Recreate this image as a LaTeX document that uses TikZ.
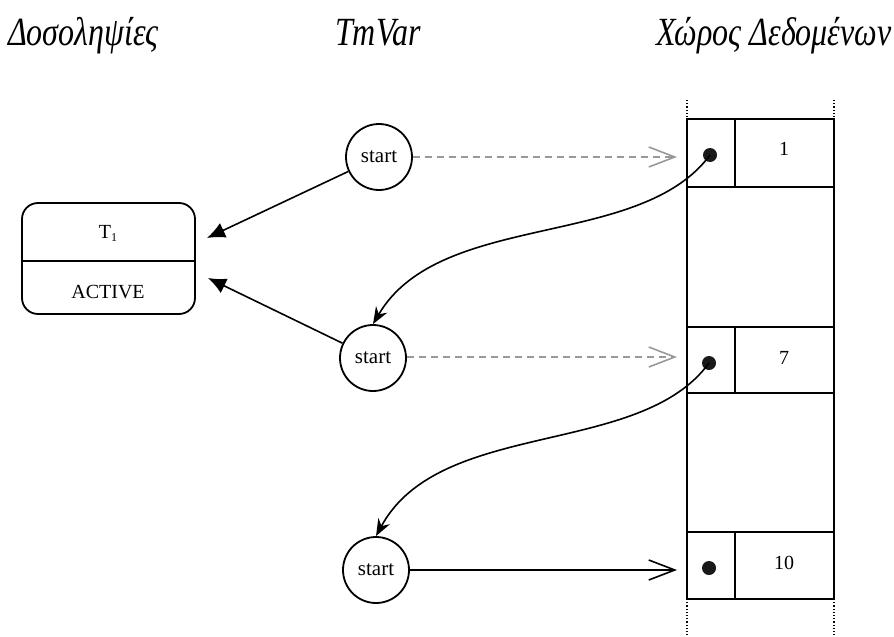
\documentclass[tikz,border=0pt]{standalone}
\usepackage{fontspec}
\setmainfont{Liberation Serif}[ItalicFont={Liberation Serif Italic}]
\usetikzlibrary{arrows.meta}
\begin{document}
\begin{tikzpicture}[x=1pt,y=-1pt,
  title/.style={anchor=base west, inner sep=0pt, font=\fontsize{40}{40}\selectfont\itshape},
  startc/.style={circle, draw, line width=1.8pt, minimum size=66pt, inner sep=0pt, font=\fontsize{21}{21}\selectfont},
  lbl/.style={inner sep=0pt, font=\fontsize{20}{20}\selectfont},
  dotn/.style={circle, fill=black!90, minimum size=14pt, inner sep=0pt},
  boxline/.style={line width=2pt},
  blk/.style={line width=1.6pt, -{Latex[length=18pt,width=16pt]}},
  open/.style={line width=1.6pt, -{Straight Barb[length=26pt,width=20pt,line width=1.6pt]}},
  grayd/.style={open, color=black!40, dash pattern=on 7pt off 5pt},
  curv/.style={line width=1.6pt, -{Stealth[length=17pt,width=13pt]}}]
\useasboundingbox (0,0) rectangle (894,637);

% titles
\node[title] (h1) at (8,45) {\scalebox{0.8}[1]{Δοσοληψίες}};
\node[title] (h2) at (335,45) {\scalebox{0.8}[1]{TmVar}};
\node[title] (h3) at (656,45) {\scalebox{0.8}[1]{Χώρος Δεδομένων}};

% transaction box
\node[draw, line width=1.8pt, rounded corners=16pt, minimum width=173pt, minimum height=111pt, inner sep=0pt] (t1) at (108.5,258.5) {};
\draw[line width=1.8pt] (t1.west |- 0,261) -- (t1.east |- 0,261);
\node[lbl] (t1name) at (108,233) {T\raisebox{-3pt}{\fontsize{12}{12}\selectfont 1}};
\node[lbl] (t1state) at (108,292) {ACTIVE};

% TmVar circles
\node[startc] (c1) at (379,157) {start};
\node[startc] (c2) at (373,358) {start};
\node[startc] (c3) at (376,570) {start};

% data space
\draw[boxline] (687,119) -- (687,599);
\draw[boxline] (834,119) -- (834,599);
\draw[line width=1.2pt, dotted] (687,100) -- (687,119);
\draw[line width=1.2pt, dotted] (834,100) -- (834,119);
\draw[line width=1.2pt, dotted] (687,599) -- (687,635);
\draw[line width=1.2pt, dotted] (834,599) -- (834,635);

\draw[boxline] (687,119) rectangle (834,187);
\draw[boxline] (735,119) -- (735,187);
\draw[boxline] (687,327) rectangle (834,393);
\draw[boxline] (735,327) -- (735,393);
\draw[boxline] (687,532) rectangle (834,599);
\draw[boxline] (735,532) -- (735,599);

\node[lbl] (n1) at (784,149) {1};
\node[lbl] (n2) at (784,358) {7};
\node[lbl] (n3) at (784,563) {10};

\node[dotn] (d1) at (710,155) {};
\node[dotn] (d2) at (709,363) {};
\node[dotn] (d3) at (709,568) {};

% arrow end points
\coordinate (a1) at (207,238);
\coordinate (a2) at (208,278);
\coordinate (e1) at (677,157);
\coordinate (e2) at (677,357);
\coordinate (e3) at (677,570);

% connectors
\draw[blk] (c1) -- (a1);
\draw[blk] (c2) -- (a2);
\draw[grayd] (c1.east) -- (e1);
\draw[grayd] (c2.east |- e2) -- (e2);
\draw[open] (c3.east) -- (e3);
\draw[curv] (d1.center) .. controls (640,250) and (440,210) .. (c2.north);
\draw[curv] (d2.center) .. controls (640,458) and (440,418) .. (c3.north);
\end{tikzpicture}
\end{document}
